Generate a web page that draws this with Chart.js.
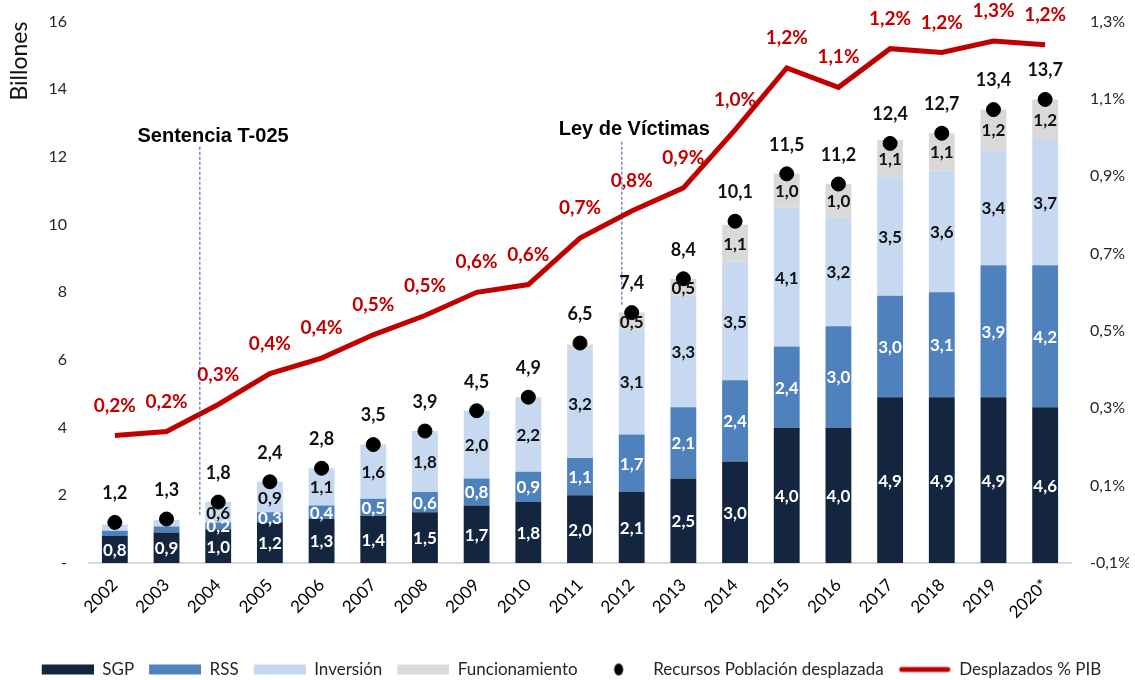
<!DOCTYPE html>
<html>
<head>
<meta charset="utf-8">
<script src="https://cdn.jsdelivr.net/npm/chart.js@4/dist/chart.umd.min.js"></script>
<style>
	html, body { margin: 0; padding: 0; background: #fff; }
	#wrap { width: 1135px; height: 680px; position: relative; }
</style>
</head>
<body>
<div id="wrap"><canvas id="grafico"></canvas></div>
<script>
var years = ['2002','2003','2004','2005','2006','2007','2008','2009','2010','2011','2012','2013','2014','2015','2016','2017','2018','2019','2020*'];
var sgp = [0.8,0.9,1.0,1.2,1.3,1.4,1.5,1.7,1.8,2.0,2.1,2.5,3.0,4.0,4.0,4.9,4.9,4.9,4.6];
var rss = [0.15,0.18,0.2,0.3,0.4,0.5,0.6,0.8,0.9,1.1,1.7,2.1,2.4,2.4,3.0,3.0,3.1,3.9,4.2];
var inversion = [0.19,0.19,0.6,0.9,1.1,1.6,1.8,2.0,2.2,3.2,3.1,3.3,3.5,4.1,3.2,3.5,3.6,3.4,3.7];
var funcionamiento = [0,0,0,0,0,0,0,0,0,0.15,0.5,0.5,1.1,1.0,1.0,1.1,1.1,1.2,1.2];
var totales = [1.2,1.3,1.8,2.4,2.8,3.5,3.9,4.5,4.9,6.5,7.4,8.4,10.1,11.5,11.2,12.4,12.7,13.4,13.7];
var pibPct = [0.23,0.24,0.31,0.39,0.43,0.49,0.54,0.60,0.62,0.74,0.81,0.87,1.02,1.18,1.13,1.23,1.22,1.25,1.24];
var yTicks = [0,2,4,6,8,10,12,14,16];
var y1Ticks = [-0.1,0.1,0.3,0.5,0.7,0.9,1.1,1.3];

var FONT = 'Lato, "Open Sans", sans-serif';
Chart.defaults.font.family = FONT;
Chart.defaults.color = '#262626';

function coma(v){
	return v.toFixed(1).replace('.', ',');
}

// iconos de leyenda (con margen a la izquierda para separar los items)
function icono(tipo, color){
	var c = document.createElement('canvas');
	c.width = 62; c.height = 14;
	var g = c.getContext('2d');
	g.fillStyle = color;
	g.strokeStyle = color;
	if(tipo === 'box'){
		g.fillRect(10, 2, 52, 10);
	} else if(tipo === 'dot'){
		g.beginPath();
		g.ellipse(36, 7, 4.5, 6, 0, 0, Math.PI*2);
		g.fill();
	} else {
		g.lineWidth = 5;
		g.lineCap = 'round';
		g.beginPath();
		g.moveTo(13, 7); g.lineTo(59, 7);
		g.stroke();
	}
	return c;
}

var etiquetas = {
	id: 'etiquetas',
	afterDatasetsDraw: function(chart){
		var ctx = chart.ctx;
		ctx.save();
		ctx.textAlign = 'center';
		ctx.textBaseline = 'middle';
		chart.data.datasets.forEach(function(ds, i){
			var meta = chart.getDatasetMeta(i);
			meta.data.forEach(function(el, j){
				var v = ds.data[j];
				if(ds.etiqueta === 'barra'){
					if(v < 0.2) return;
					ctx.font = 'bold 17px ' + FONT;
					ctx.fillStyle = ds.colorTexto;
					ctx.fillText(coma(v), el.x, (el.y + el.base)/2 + 1);
				} else if(ds.etiqueta === 'total'){
					ctx.font = 'bold 18px ' + FONT;
					ctx.fillStyle = '#111';
					ctx.fillText(coma(v), el.x, el.y - 29);
				} else if(ds.etiqueta === 'pct'){
					ctx.font = 'bold 19px ' + FONT;
					ctx.fillStyle = '#C00000';
					ctx.fillText(coma(v) + '%', el.x, el.y - 30);
				}
			});
		});
		ctx.restore();
	}
};

var hitos = {
	id: 'hitos',
	afterDatasetsDraw: function(chart){
		var ctx = chart.ctx;
		var x = chart.scales.x, y = chart.scales.y;
		var marcas = [
			{texto: 'Sentencia T-025', pos: 1.645, desde: 12.3, hasta: 1.36, tx: 1.9, ty: 12.6},
			{texto: 'Ley de Víctimas', pos: 9.81, desde: 12.45, hasta: 7.6, tx: 10.05, ty: 12.8}
		];
		ctx.save();
		marcas.forEach(function(m){
			var px = x.getPixelForValue(m.pos);
			ctx.strokeStyle = '#2F5597';
			ctx.lineWidth = 1;
			ctx.setLineDash([3, 2]);
			ctx.beginPath();
			ctx.moveTo(px, y.getPixelForValue(m.desde));
			ctx.lineTo(px, y.getPixelForValue(m.hasta));
			ctx.stroke();
			ctx.setLineDash([]);
			ctx.font = 'bold 20px "Liberation Sans Narrow", "Arial Narrow", "Liberation Sans", sans-serif';
			ctx.fillStyle = '#000';
			ctx.textAlign = 'center';
			ctx.textBaseline = 'middle';
			ctx.fillText(m.texto, x.getPixelForValue(m.tx), y.getPixelForValue(m.ty));
		});
		ctx.restore();
	}
};

var chartdata = {
	labels: years,
	datasets: [
		{label: 'SGP', data: sgp, backgroundColor: '#13253F', stack: 'rec', order: 3, etiqueta: 'barra', colorTexto: '#fff', icono: icono('box', '#13253F')},
		{label: 'RSS', data: rss, backgroundColor: '#4F81BD', stack: 'rec', order: 3, etiqueta: 'barra', colorTexto: '#fff', icono: icono('box', '#4F81BD')},
		{label: 'Inversión', data: inversion, backgroundColor: '#C6D9F1', stack: 'rec', order: 3, etiqueta: 'barra', colorTexto: '#111', icono: icono('box', '#C6D9F1')},
		{label: 'Funcionamiento', data: funcionamiento, backgroundColor: '#D9D9D9', stack: 'rec', order: 3, etiqueta: 'barra', colorTexto: '#111', icono: icono('box', '#D9D9D9')},
		{label: 'Recursos Población desplazada', type: 'line', data: totales, stack: 'tot', showLine: false,
			pointRadius: 7, pointHoverRadius: 7, pointBackgroundColor: '#000', pointBorderColor: '#000', borderColor: '#000',
			order: 1, etiqueta: 'total', icono: icono('dot', '#000')},
		{label: 'Desplazados % PIB', type: 'line', data: pibPct, yAxisID: 'y1', borderColor: '#C00000', backgroundColor: '#C00000',
			borderWidth: 5, pointRadius: 0, tension: 0, order: 2, etiqueta: 'pct', icono: icono('line', '#C00000')}
	]
};

var ctx = document.getElementById('grafico');
var grafico = new Chart(ctx, {
	type: 'bar',
	data: chartdata,
	plugins: [etiquetas, hitos],
	options: {
		responsive: true,
		maintainAspectRatio: false,
		animation: false,
		barPercentage: 0.5,
		categoryPercentage: 1,
		layout: {padding: {top: 0, right: 6, left: 4, bottom: 0}},
		plugins: {
			tooltip: {enabled: false},
			legend: {
				position: 'bottom',
				maxHeight: 24,
				labels: {
					usePointStyle: true,
					pointStyleWidth: 62,
					boxHeight: 14,
					padding: 5,
					font: {size: 17, lineHeight: 1},
					color: '#262626',
					generateLabels: function(chart){
						return chart.data.datasets.map(function(ds, i){
							return {text: ds.label, pointStyle: ds.icono, datasetIndex: i, hidden: false, lineWidth: 0, fontColor: '#262626'};
						});
					}
				}
			}
		},
		scales: {
			x: {
				stacked: true,
				grid: {display: false},
				border: {display: true, color: '#D9D9D9', width: 2},
				ticks: {font: {size: 17}, color: '#000', minRotation: 45, maxRotation: 45, padding: 4},
				afterFit: function(s){ s.height = 93; }
			},
			y: {
				stacked: true,
				min: 0, max: 16,
				afterBuildTicks: function(s){ s.ticks = yTicks.map(function(v){ return {value: v}; }); },
				afterFit: function(s){ s.width = 85; },
				grid: {display: false, tickLength: 10},
				border: {display: false},
				title: {display: true, text: 'Billones', align: 'end', font: {size: 23}, color: '#111', padding: {top: 2, bottom: 4}},
				ticks: {font: {size: 16}, color: '#262626', padding: 12, callback: function(v){ return v === 0 ? '-' : v; }}
			},
			y1: {
				position: 'right',
				min: -0.1, max: 1.3,
				afterBuildTicks: function(s){ s.ticks = y1Ticks.map(function(v){ return {value: v}; }); },
				afterFit: function(s){ s.width = 58; },
				grid: {display: false},
				border: {display: false},
				ticks: {font: {size: 16}, color: '#262626', padding: 11, callback: function(v){ return coma(v) + '%'; }}
			}
		}
	}
});
</script>
</body>
</html>
